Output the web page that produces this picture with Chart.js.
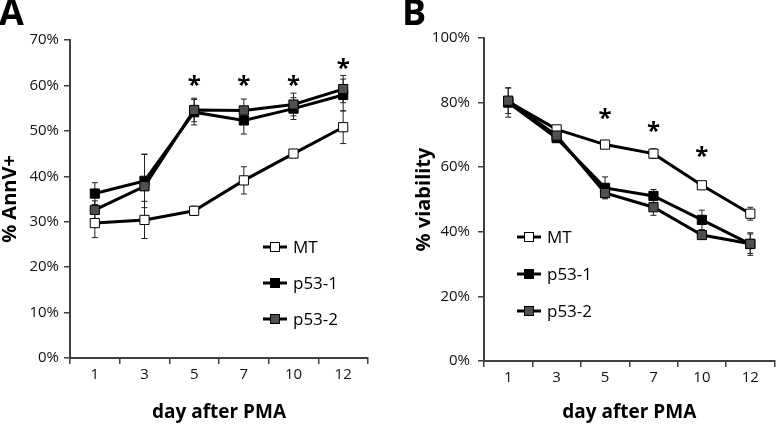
<!DOCTYPE html>
<html>
<head>
<meta charset="utf-8">
<script src="https://cdn.jsdelivr.net/npm/chart.js@4.4.1/dist/chart.umd.min.js"></script>
<style>
  html, body { margin: 0; padding: 0; background: #fff; }
  #wrap { position: relative; width: 782px; height: 425px; overflow: hidden; }
  .panel { position: absolute; top: 0; width: 391px; height: 425px; }
  .tag { position: absolute; top: -6px; font: bold 36px "Open Sans"; line-height: 36px; color: #000; }
</style>
</head>
<body>
<div id="wrap">
  <div class="panel" style="left:0"><canvas id="chartA" width="391" height="425"></canvas></div>
  <div class="panel" style="left:391px"><canvas id="chartB" width="391" height="425"></canvas></div>
  <div class="tag" style="left:-1px">A</div>
  <div class="tag" style="left:402px">B</div>
</div>
<script>
const days = ["1", "3", "5", "7", "10", "12"];
const seriesNames = ["MT", "p53-1", "p53-2"];

// panel A, % AnnV+
const annMT = [29.7, 30.4, 32.4, 39.1, 45.0, 50.8];
const annMTErr = [3.2, 4.1, 1.0, 3.0, 0.9, 3.6];
const annP531 = [36.2, 39.0, 54.1, 52.3, 54.9, 57.9];
const annP531Err = [2.4, 5.9, 2.8, 3.0, 2.4, 3.5];
const annP532 = [32.6, 37.8, 54.6, 54.5, 55.8, 59.2];
const annP532Err = [2.0, 7.0, 2.6, 2.5, 2.5, 3.0];
const annStars = [null, null, 61.5, 61.5, 61.5, 65.2];

// panel B, % viability
const viaMT = [80.3, 71.7, 67.0, 64.2, 54.4, 45.6];
const viaMTErr = [1.5, 1.0, 1.0, 1.5, 1.0, 2.0];
const viaP531 = [80.0, 69.0, 53.6, 51.1, 43.7, 36.2];
const viaP531Err = [4.5, 1.0, 3.4, 2.0, 3.0, 3.5];
const viaP532 = [80.6, 69.8, 52.0, 47.6, 39.0, 36.3];
const viaP532Err = [4.0, 1.5, 1.5, 2.5, 1.0, 3.0];
const viaStars = [null, null, 77.0, 73.0, 65.4, null];

const fills = ["#ffffff", "#000000", "#505050"];
const axisColor = "#404040";
const fontFamily = "'Open Sans', 'Noto Sans', sans-serif";

// error bars under the markers
const errorBars = {
  id: "errorBars",
  beforeDatasetsDraw(chart) {
    const ctx = chart.ctx;
    const y = chart.scales.y;
    ctx.save();
    ctx.strokeStyle = "#222";
    ctx.lineWidth = 1;
    chart.data.datasets.forEach((ds, i) => {
      const meta = chart.getDatasetMeta(i);
      meta.data.forEach((pt, j) => {
        const e = ds.errors[j];
        const top = y.getPixelForValue(ds.data[j] + e);
        const bot = y.getPixelForValue(ds.data[j] - e);
        ctx.beginPath();
        ctx.moveTo(pt.x, top);
        ctx.lineTo(pt.x, bot);
        ctx.moveTo(pt.x - 3, top);
        ctx.lineTo(pt.x + 3, top);
        ctx.moveTo(pt.x - 3, bot);
        ctx.lineTo(pt.x + 3, bot);
        ctx.stroke();
      });
    });
    ctx.restore();
  }
};

// significance stars
const stars = {
  id: "stars",
  afterDatasetsDraw(chart, args, opts) {
    const ctx = chart.ctx;
    ctx.save();
    ctx.fillStyle = "#000";
    ctx.font = "bold 24px " + fontFamily;
    ctx.textAlign = "center";
    ctx.textBaseline = "alphabetic";
    opts.values.forEach((v, i) => {
      if (v === null) return;
      const px = chart.scales.x.getPixelForValue(i);
      const py = chart.scales.y.getPixelForValue(v);
      ctx.fillText("*", px, py + 14);
    });
    ctx.restore();
  }
};

// legend drawn inside the plot
const innerLegend = {
  id: "innerLegend",
  afterDraw(chart, args, opts) {
    const ctx = chart.ctx;
    ctx.save();
    chart.data.datasets.forEach((ds, i) => {
      const yy = opts.y + i * opts.gap;
      ctx.strokeStyle = "#000";
      ctx.lineWidth = 3;
      ctx.beginPath();
      ctx.moveTo(opts.x, yy);
      ctx.lineTo(opts.x + 24, yy);
      ctx.stroke();
      ctx.fillStyle = ds.pointBackgroundColor;
      ctx.lineWidth = 1;
      ctx.fillRect(opts.x + 7.5, yy - 4.5, 9, 9);
      ctx.strokeRect(opts.x + 7.5, yy - 4.5, 9, 9);
      ctx.fillStyle = "#000";
      ctx.font = "17px " + fontFamily;
      ctx.textAlign = "left";
      ctx.textBaseline = "middle";
      ctx.fillText(ds.label, opts.x + 30, yy + 1);
    });
    ctx.restore();
  }
};

function makeChart(canvasId, values, errors, starValues, p) {
  return new Chart(document.getElementById(canvasId), {
    type: "line",
    data: {
      labels: days,
      datasets: values.map((vals, i) => ({
        label: seriesNames[i],
        data: vals,
        errors: errors[i],
        order: 2 - i,
        borderColor: "#000",
        borderWidth: 3,
        pointStyle: "rect",
        pointRadius: 6.5,
        pointBorderWidth: 1,
        pointBorderColor: "#000",
        pointBackgroundColor: fills[i],
        tension: 0,
        fill: false
      }))
    },
    plugins: [errorBars, stars, innerLegend],
    options: {
      responsive: false,
      animation: false,
      events: [],
      layout: { padding: { top: p.top, right: p.right, left: 0, bottom: 0 } },
      plugins: {
        legend: { display: false },
        tooltip: { enabled: false },
        stars: { values: starValues },
        innerLegend: { x: p.legX, y: p.legY, gap: p.legGap }
      },
      scales: {
        x: {
          type: "category",
          offset: true,
          grid: { offset: true, drawOnChartArea: false, drawTicks: true, tickLength: 6, color: axisColor, lineWidth: 1.5 },
          border: { display: true, color: axisColor, width: 2 },
          ticks: { color: "#111", padding: 2, font: { family: fontFamily, size: 15 }, maxRotation: 0 },
          title: { display: true, text: "day after PMA", color: "#000", padding: { top: 0, bottom: 3 }, font: { family: fontFamily, size: 19, weight: "bold", lineHeight: 1 } },
          afterFit(scale) { scale.height = p.xHeight; }
        },
        y: {
          min: 0,
          max: p.yMax,
          grid: { drawOnChartArea: false, drawTicks: true, tickLength: 6, color: axisColor, lineWidth: 1.5 },
          border: { display: true, color: axisColor, width: 2 },
          ticks: { stepSize: p.yStep, color: "#111", padding: p.tickPad, font: { family: fontFamily, size: 15 }, callback: v => v + "%" },
          title: { display: true, text: p.yTitle, color: "#000", padding: { top: p.titlePad, bottom: 0 }, font: { family: fontFamily, size: 20, weight: "bold", lineHeight: 1 } },
          afterFit(scale) { scale.width = p.yWidth; }
        }
      }
    }
  });
}

makeChart("chartA", [annMT, annP531, annP532], [annMTErr, annP531Err, annP532Err], annStars, {
  top: 40, right: 23, xHeight: 67, yWidth: 70, yMax: 70, yStep: 10, tickPad: 5,
  yTitle: "% AnnV+", titlePad: 0, legX: 263, legY: 247, legGap: 36
});

makeChart("chartB", [viaMT, viaP531, viaP532], [viaMTErr, viaP531Err, viaP532Err], viaStars, {
  top: 38, right: 3, xHeight: 64, yWidth: 93, yMax: 100, yStep: 20, tickPad: 8,
  yTitle: "% viability", titlePad: 23, legX: 126, legY: 237, legGap: 37
});
</script>
</body>
</html>
